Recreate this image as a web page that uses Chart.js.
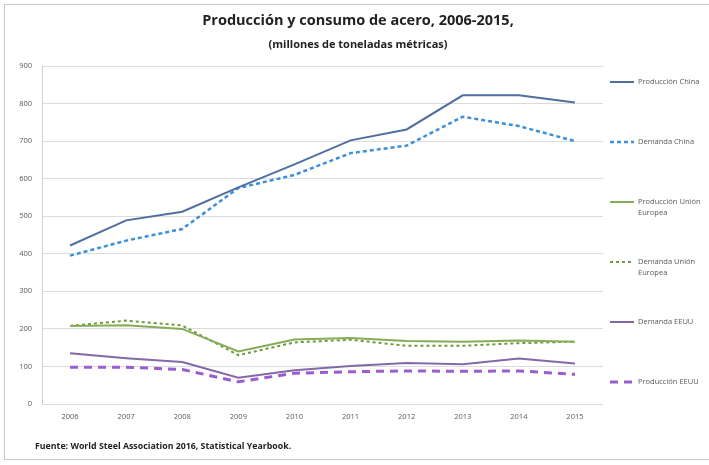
<!DOCTYPE html>
<html>
<head>
<meta charset="utf-8">
<script src="https://cdn.jsdelivr.net/npm/chart.js@4/dist/chart.umd.min.js"></script>
<style>
  html, body { margin: 0; padding: 0; background: #fff; }
  #wrap { position: relative; width: 709px; height: 465px; }
</style>
</head>
<body>
<div id="wrap"><canvas id="chart" width="709" height="465"></canvas></div>
<script>
// ── data ──────────────────────────────
const years = ['2006', '2007', '2008', '2009', '2010', '2011', '2012', '2013', '2014', '2015'];

const prodChina   = [422, 489, 512, 577, 638, 702, 731, 822, 822, 803];
const demChina    = [395, 435, 466, 575, 610, 668, 688, 765, 740, 700];
const prodUE      = [208, 210, 200, 140, 172, 176, 168, 166, 169, 166];
const demUE       = [208, 222, 209, 130, 164, 171, 155, 155, 162, 166];
const demEEUU     = [135, 122, 112, 70, 90, 101, 109, 106, 121, 108];
const prodEEUU    = [98, 98, 92, 59, 82, 86, 88, 87, 88, 79];

const seriesNames = ['Producción China', 'Demanda China', 'Producción Unión Europea',
                     'Demanda Unión Europea', 'Demanda EEUU', 'Producción EEUU'];

const titleText    = 'Producción y consumo de acero, 2006-2015,';
const subtitleText = '(millones de toneladas métricas)';
const sourceText   = 'Fuente: World Steel Association 2016, Statistical Yearbook.';

const FONT = "'Open Sans', 'Liberation Sans', sans-serif";

// ── frame, titles, legend ──────────────────────────
const decor = {
  id: 'decor',
  beforeDraw(chart) {
    const c = chart.ctx;
    c.save();
    c.fillStyle = '#fff';
    c.fillRect(0, 0, chart.width, chart.height);
    c.strokeStyle = '#c8c8c8';
    c.lineWidth = 1;
    c.strokeRect(4.5, 4.5, 720, 455);
    c.restore();
  },
  afterDraw(chart) {
    const c = chart.ctx;
    c.save();
    c.fillStyle = '#222';
    c.textAlign = 'center';
    c.textBaseline = 'middle';
    c.font = 'bold 14.5px ' + FONT;
    c.fillText(titleText, 358, 21);
    c.font = 'bold 11px ' + FONT;
    c.fillText(subtitleText, 358, 45);

    c.textAlign = 'left';
    c.font = 'bold 8.8px ' + FONT;
    c.fillText(sourceText, 35, 446);

    // legend
    const split = {
      'Producción Unión Europea': ['Producción Unión', 'Europea'],
      'Demanda Unión Europea': ['Demanda Unión', 'Europea']
    };
    c.font = '7.5px ' + FONT;
    chart.data.datasets.forEach((ds, i) => {
      const y = 82 + i * 60;
      c.strokeStyle = ds.borderColor;
      c.lineWidth = ds.borderWidth;
      c.setLineDash(ds.borderDash || []);
      c.beginPath();
      c.moveTo(610, y);
      c.lineTo(634, y);
      c.stroke();
      c.setLineDash([]);
      c.fillStyle = '#595959';
      const lines = split[ds.label] || [ds.label];
      lines.forEach((t, k) => c.fillText(t, 638, y + k * 11));
    });
    c.restore();
  }
};

const mk = (label, data, color, width, dash) => ({
  label, data,
  borderColor: color,
  backgroundColor: color,
  borderWidth: width,
  borderDash: dash,
  pointRadius: 0,
  tension: 0,
  fill: false
});

new Chart(document.getElementById('chart'), {
  type: 'line',
  data: {
    labels: years,
    datasets: [
      mk(seriesNames[0], prodChina, '#4f6fa0', 2, []),
      mk(seriesNames[1], demChina, '#3b8fdb', 2.5, [4, 3]),
      mk(seriesNames[2], prodUE, '#86ac58', 2, []),
      mk(seriesNames[3], demUE, '#6f9b3d', 2, [3, 3]),
      mk(seriesNames[4], demEEUU, '#8468a8', 2, []),
      mk(seriesNames[5], prodEEUU, '#9a5ccf', 3, [8, 6])
    ]
  },
  options: {
    responsive: false,
    animation: false,
    layout: { padding: { left: 0, top: 66, right: 106, bottom: 0 } },
    plugins: {
      legend: { display: false },
      title: { display: false },
      tooltip: { enabled: false }
    },
    scales: {
      x: {
        offset: true,
        grid: { display: false, drawTicks: false },
        border: { display: false },
        ticks: { color: '#595959', font: { family: FONT, size: 7.5 }, padding: 8, maxRotation: 0 },
        afterFit: s => { s.height = 61; }
      },
      y: {
        min: 0, max: 900,
        ticks: { stepSize: 100, color: '#595959', font: { family: FONT, size: 7.5 }, padding: 10 },
        grid: { color: '#dcdcdc', lineWidth: 1, drawTicks: false },
        border: { display: true, color: '#d0d0d0' },
        afterFit: s => { s.width = 42; }
      }
    }
  },
  plugins: [decor]
});
</script>
</body>
</html>
